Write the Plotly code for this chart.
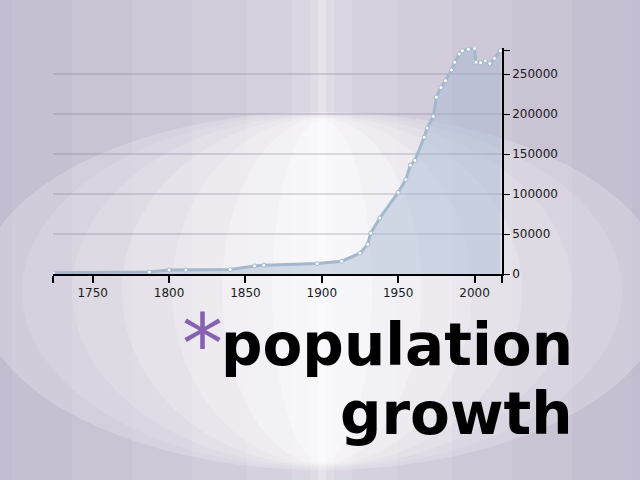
import plotly.graph_objects as go

# ---- data ----
years = [1724, 1787, 1800, 1811, 1840, 1856, 1862, 1897, 1913, 1925, 1930, 1932,
         1938, 1950, 1955, 1958, 1961, 1967, 1969, 1973, 1975, 1978, 1981, 1985,
         1987, 1990, 1992, 1996, 2000, 2001, 2004, 2007, 2010, 2013, 2017]
population = [1500, 2500, 5000, 5000, 5500, 10000, 11000, 13000, 16000, 26000, 37000, 51000,
              70000, 102000, 118000, 136000, 142000, 171000, 182500, 197000, 221000, 233000, 241600, 255000,
              264600, 275000, 279000, 281000, 282000, 264600, 264000, 266600, 263000, 269600, 279000]
x_tickvals = [1724, 1750, 1800, 1850, 1900, 1950, 2000, 2018]
x_ticktext = ["", "1750", "1800", "1850", "1900", "1950", "2000", ""]
y_tickvals = [0, 50000, 100000, 150000, 200000, 250000]
y_ticktext = ["0", "50000", "100000", "150000", "200000", "250000"]
y_top_tick = [280000]

W, H = 640, 480


def px(x):
    return x / W


def py(y):
    return 1 - y / H


fig = go.Figure()
fig.add_trace(go.Scatter(
    x=years, y=population, mode="lines+markers",
    line=dict(color="#a3b8cd", width=3),
    marker=dict(size=4, color="white", line=dict(color="#a3b8cd", width=1)),
    fill="tozeroy", fillcolor="rgba(165,185,210,0.45)",
    hoverinfo="x+y", showlegend=False,
))

shapes = []
# horizontal brightness gradient (bright vertical band in the centre)
CX = 322
for w, op in [(620, 0.06), (500, 0.07), (380, 0.08), (260, 0.1), (150, 0.1), (60, 0.12), (24, 0.15), (8, 0.2)]:
    shapes.append(dict(type="rect", xref="paper", yref="paper", layer="below",
                       x0=px(CX - w / 2), x1=px(CX + w / 2), y0=0, y1=1,
                       fillcolor="white", opacity=op, line=dict(width=0)))
# big glowing ellipse: crisp top/bottom edge, soft horizontal fade
cy, ry = 291, 179
for rx, dry, op in [(345, 0, 0.2), (300, 2, 0.12), (250, 3, 0.14), (200, 4, 0.18), (150, 5, 0.22), (100, 6, 0.28), (50, 8, 0.3)]:
    shapes.append(dict(type="circle", xref="paper", yref="paper", layer="below",
                       x0=px(CX - rx), x1=px(CX + rx), y0=py(cy + ry - dry), y1=py(cy - ry + dry),
                       fillcolor="white", opacity=op, line=dict(width=0)))

fig.update_layout(
    width=W, height=H,
    margin=dict(l=0, r=0, t=0, b=0),
    paper_bgcolor="#c3bbcf",
    plot_bgcolor="rgba(0,0,0,0)",
    shapes=shapes,
    font=dict(family="DejaVu Sans", color="#222222", size=12),
    xaxis=dict(
        domain=[px(53), px(502)], range=[1724, 2018],
        showgrid=False, zeroline=False,
        showline=True, linecolor="black", linewidth=2,
        ticks="outside", ticklen=7, tickwidth=1.5, tickcolor="black",
        tickvals=x_tickvals, ticktext=x_ticktext,
        tickfont=dict(size=12, family="DejaVu Sans", color="#1a1a1a"),
        automargin=False, fixedrange=True,
    ),
    yaxis=dict(
        domain=[py(274), py(274 - 283000 / 1250)], range=[0, 283000],
        side="right", anchor="x",
        showgrid=True, gridcolor="rgba(120,112,135,0.24)", gridwidth=1.5,
        zeroline=False,
        showline=True, linecolor="black", linewidth=1.5,
        ticks="outside", ticklen=6, tickwidth=1.2, tickcolor="black",
        tickvals=y_tickvals, ticktext=y_ticktext,
        minor=dict(tickvals=y_top_tick, ticks="outside", ticklen=6, tickwidth=1.2,
                   tickcolor="black", showgrid=False),
        tickfont=dict(size=12, family="DejaVu Sans", color="#1a1a1a"),
        automargin=False, fixedrange=True,
    ),
    annotations=[
        dict(text="*", xref="paper", yref="paper", x=px(202), y=py(344),
             xanchor="center", yanchor="middle", showarrow=False,
             font=dict(family="DejaVu Sans", size=82, color="#8762b1")),
        dict(text="<b>population</b>", xref="paper", yref="paper", x=px(575), y=py(345),
             xanchor="right", yanchor="middle", showarrow=False,
             font=dict(family="DejaVu Sans", size=58, color="black")),
        dict(text="<b>growth</b>", xref="paper", yref="paper", x=px(575), y=py(414),
             xanchor="right", yanchor="middle", showarrow=False,
             font=dict(family="DejaVu Sans", size=58, color="black")),
    ],
)

fig.write_html("out.html", config={"displayModeBar": False},
               post_script="document.body.style.margin='0px';")
